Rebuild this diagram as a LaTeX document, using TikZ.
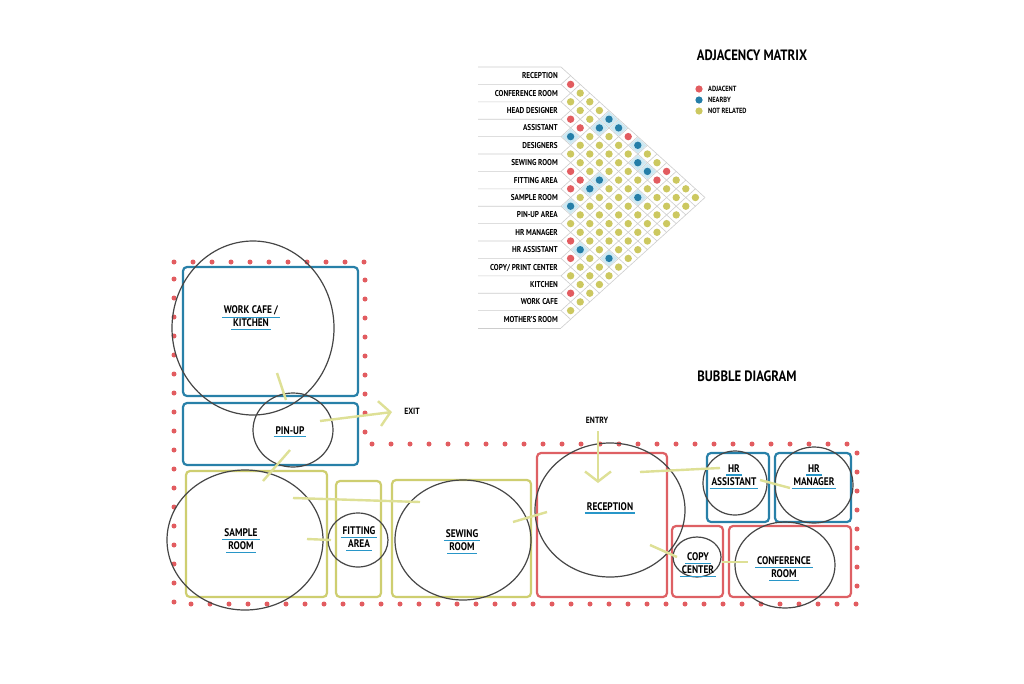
\documentclass[tikz,border=0pt]{standalone}
\usepackage{fontspec}
\newfontfamily\hand[FakeStretch=0.85]{PT Sans}
\usetikzlibrary{shapes.geometric,arrows.meta}
\definecolor{redc}{RGB}{226,92,96}
\definecolor{bluec}{RGB}{36,126,168}
\definecolor{yelc}{RGB}{204,200,96}
\definecolor{boxblue}{RGB}{40,128,168}
\definecolor{boxyel}{RGB}{206,206,112}
\definecolor{boxred}{RGB}{222,96,100}
\definecolor{arrc}{RGB}{222,224,150}
\definecolor{ulc}{RGB}{40,150,200}
\definecolor{gridc}{RGB}{205,205,205}
\definecolor{cellblue}{RGB}{205,232,242}
\definecolor{ringc}{RGB}{70,70,70}
\newcommand\ulbox[1]{\setbox0\hbox{#1}\vtop{\offinterlineskip\hbox{\kern2pt\copy0\kern2pt}\kern1.6pt\hbox{\color{ulc}\rule{\dimexpr\wd0+4pt\relax}{1.4pt}}}}
\def\setc#1#2#3{\expandafter\def\csname mc#1-#2\endcsname{#3}}
\def\bluename{bluec}
% adjacent
\setc{0}{1}{redc}\setc{2}{3}{redc}\setc{2}{4}{redc}\setc{0}{7}{redc}
\setc{5}{6}{redc}\setc{0}{11}{redc}\setc{5}{7}{redc}\setc{1}{11}{redc}
\setc{6}{7}{redc}\setc{9}{10}{redc}\setc{10}{11}{redc}\setc{12}{13}{redc}
% nearby
\setc{0}{5}{bluec}\setc{1}{5}{bluec}\setc{0}{6}{bluec}\setc{3}{4}{bluec}
\setc{0}{8}{bluec}\setc{1}{9}{bluec}\setc{1}{10}{bluec}\setc{4}{8}{bluec}
\setc{5}{8}{bluec}\setc{3}{11}{bluec}\setc{7}{8}{bluec}\setc{9}{11}{bluec}
\setc{8}{13}{bluec}
\begin{document}
\begin{tikzpicture}[x=1pt,y=-1pt,
  gridline/.style={draw=gridc,line width=0.6pt},
  mlabel/.style={font=\hand\bfseries\fontsize{8.5}{9}\selectfont,inner sep=0pt,anchor=base east},
  title/.style={font=\hand\bfseries\fontsize{15}{16}\selectfont,inner sep=0pt},
  leglabel/.style={font=\hand\bfseries\fontsize{7.5}{8}\selectfont,inner sep=0pt,anchor=west},
  roomlabel/.style={font=\hand\bfseries\fontsize{11}{13}\selectfont,inner sep=0pt,align=center},
  smalllabel/.style={font=\hand\bfseries\fontsize{9}{10}\selectfont,inner sep=0pt},
  roombox/.style={rectangle,rounded corners=4pt,line width=2.2pt,inner sep=0pt},
  bluebox/.style={roombox,draw=boxblue},
  yelbox/.style={roombox,draw=boxyel},
  redbox/.style={roombox,draw=boxred},
  ring/.style={ellipse,draw=ringc,line width=1.2pt,inner sep=0pt},
  link/.style={draw=arrc,line width=2.4pt},
  zone/.style={draw=redc,line width=5pt,line cap=round,dash pattern=on 0pt off 19pt}
]
\useasboundingbox (0,0) rectangle (1024,683);
\fill[white] (0,0) rectangle (1024,683);

% ---------------- adjacency matrix ----------------
\foreach \b in {0,...,15} {
  \pgfmathsetmacro\yb{67+\b*17.4}
  \pgfmathsetmacro\xd{561+(15-\b)*9.6}
  \pgfmathsetmacro\yd{67+(\b+15)*8.7}
  \pgfmathsetmacro\xu{561+\b*9.6}
  \pgfmathsetmacro\yu{67+\b*8.7}
  \draw[gridline] (478,\yb) -- (561,\yb) -- (\xd,\yd);
  \draw[gridline] (561,\yb) -- (\xu,\yu);
}
\foreach \i in {0,...,13} {
  \pgfmathtruncatemacro\js{\i+1}
  \foreach \j in {\js,...,14} {
    \pgfmathsetmacro\px{561+(\j-\i)*9.6}
    \pgfmathsetmacro\py{67+(\i+\j+1)*8.7}
    \ifcsname mc\i-\j\endcsname
      \edef\col{\csname mc\i-\j\endcsname}%
    \else
      \def\col{yelc}%
    \fi
    \ifx\col\bluename
      \fill[cellblue] (\px-8.6,\py) -- (\px,\py-7.8) -- (\px+8.6,\py) -- (\px,\py+7.8) -- cycle;
    \fi
    \fill[\col] (\px,\py) circle (3.7pt);
  }
}
\foreach \t [count=\n from 0] in {RECEPTION,CONFERENCE ROOM,HEAD DESIGNER,ASSISTANT,DESIGNERS,SEWING ROOM,FITTING AREA,SAMPLE ROOM,PIN-UP AREA,HR MANAGER,HR ASSISTANT,COPY/ PRINT CENTER,KITCHEN,WORK CAFE,MOTHER’S ROOM} {
  \pgfmathsetmacro\ly{67+(\n+0.5)*17.4+3}
  \node[mlabel] (lab\n) at (558,\ly) {\t};
}

\node[title] (mtitle) at (752,55) {ADJACENCY MATRIX};
\fill[redc] (699,89) circle (3.6pt);
\fill[bluec] (699,100) circle (3.6pt);
\fill[yelc] (699,111) circle (3.6pt);
\node[leglabel] (legA) at (708,89) {ADJACENT};
\node[leglabel] (legN) at (708,100) {NEARBY};
\node[leglabel] (legR) at (708,111) {NOT RELATED};

% ---------------- bubble diagram ----------------
\node[title] (btitle) at (747,376) {BUBBLE DIAGRAM};

\draw[zone] (174,262) -- (365,262) -- (365,444) -- (857,444) -- (857,604) -- (174,604) -- cycle;

\node[bluebox,minimum width=175pt,minimum height=129pt] (cafebox) at (270.5,331.5) {};
\node[bluebox,minimum width=175pt,minimum height=62pt] (pinbox) at (270.5,434) {};
\node[yelbox,minimum width=141pt,minimum height=126pt] (samplebox) at (256.5,534) {};
\node[yelbox,minimum width=45pt,minimum height=116pt] (fitbox) at (358.5,539) {};
\node[yelbox,minimum width=139pt,minimum height=117pt] (sewbox) at (461.5,538.5) {};
\node[redbox,minimum width=130pt,minimum height=144pt] (recbox) at (602,525) {};
\node[bluebox,minimum width=62pt,minimum height=69pt] (hrabox) at (738,487.5) {};
\node[bluebox,minimum width=76pt,minimum height=69pt] (hrmbox) at (813,487.5) {};
\node[redbox,minimum width=51pt,minimum height=71pt] (copybox) at (697.5,561.5) {};
\node[redbox,minimum width=122pt,minimum height=71pt] (confbox) at (790,561.5) {};

\node[ring,minimum width=162pt,minimum height=174pt] (cafe) at (253,328) {};
\node[ring,minimum width=80pt,minimum height=74pt] (pin) at (293,430) {};
\node[ring,minimum width=156pt,minimum height=140pt] (sample) at (245,540) {};
\node[ring,minimum width=60pt,minimum height=54pt] (fit) at (358,540) {};
\node[ring,minimum width=136pt,minimum height=120pt] (sew) at (463,540) {};
\node[ring,minimum width=150pt,minimum height=134pt] (rec) at (610,510) {};
\node[ring,minimum width=64pt,minimum height=64pt] (hra) at (735,483) {};
\node[ring,minimum width=78pt,minimum height=76pt] (hrm) at (814,485) {};
\node[ring,minimum width=48pt,minimum height=40pt] (copy) at (697,557) {};
\node[ring,minimum width=100pt,minimum height=86pt] (conf) at (785,565) {};

% connectors
\coordinate (cafeS) at (277,373);  \coordinate (pinN) at (286,400);
\coordinate (pinE) at (320,421);   \coordinate (exitpt) at (392,412);
\coordinate (pinS) at (290,450);   \coordinate (sampleN) at (263,481);
\coordinate (sampleE) at (293,498); \coordinate (sewW) at (420,502);
\coordinate (sampleR) at (307,539); \coordinate (fitW) at (331,540);
\coordinate (sewE) at (513,522);   \coordinate (recW) at (547,512);
\coordinate (entrypt) at (598,431); \coordinate (recN) at (598,483);
\coordinate (recE) at (640,472);   \coordinate (hraW) at (720,468);
\coordinate (hraE) at (760,480);   \coordinate (hrmW) at (790,488);
\coordinate (recSE) at (650,545);  \coordinate (copyW) at (677,557);
\coordinate (copyE) at (722,562);  \coordinate (confW) at (748,562);

\draw[link] (cafeS) -- (pinN);
\draw[link,-{Straight Barb[length=11pt,width=25pt]}] (pinE) -- (exitpt);
\draw[link] (pinS) -- (sampleN);
\draw[link] (sampleE) -- (sewW);
\draw[link] (sampleR) -- (fitW);
\draw[link] (sewE) -- (recW);
\draw[link,-{Straight Barb[length=10pt,width=26pt]}] (entrypt) -- (recN);
\draw[link] (recE) -- (hraW);
\draw[link] (hraE) -- (hrmW);
\draw[link] (recSE) -- (copyW);
\draw[link] (copyE) -- (confW);

\node[smalllabel] (exit) at (412,411) {EXIT};
\node[smalllabel] (entry) at (597,420) {ENTRY};

% room labels
\node[roomlabel] (tcafe) at (251,318) {\ulbox{WORK CAFE /}\\\ulbox{KITCHEN}};
\node[roomlabel] (tpin) at (290,432) {\ulbox{PIN-UP}};
\node[roomlabel] (tsample) at (241,541) {\ulbox{SAMPLE}\\\ulbox{ROOM}};
\node[roomlabel] (tfit) at (359,539) {\ulbox{FITTING}\\\ulbox{AREA}};
\node[roomlabel] (tsew) at (462,542) {\ulbox{SEWING}\\\ulbox{ROOM}};
\node[roomlabel] (trec) at (610,508) {\ulbox{RECEPTION}};
\node[roomlabel] (thra) at (734,477) {\ulbox{HR}\\\ulbox{ASSISTANT}};
\node[roomlabel] (thrm) at (814,477) {\ulbox{HR}\\\ulbox{MANAGER}};
\node[roomlabel] (tcopy) at (698,565) {\ulbox{COPY}\\\ulbox{CENTER}};
\node[roomlabel] (tconf) at (784,569) {\ulbox{CONFERENCE}\\\ulbox{ROOM}};
\end{tikzpicture}
\end{document}
